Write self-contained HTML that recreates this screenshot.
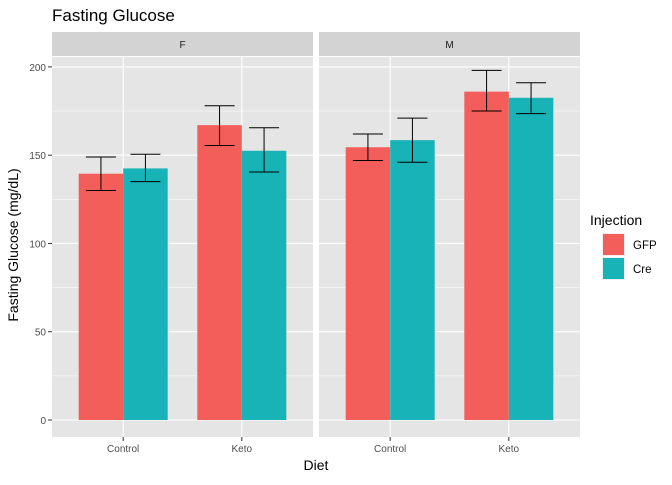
<!DOCTYPE html>
<html><head><meta charset="utf-8"><style>
body{margin:0;background:#fff;}
svg text{font-family:"Liberation Sans",sans-serif;}
</style></head><body>
<svg id="chart" width="672" height="480" xmlns="http://www.w3.org/2000/svg">
<text x="52" y="21" font-size="17" fill="#000">Fasting Glucose</text>
<g id="plot"></g>
<text x="316" y="470" font-size="14" text-anchor="middle">Diet</text>
<text transform="translate(18,245) rotate(-90)" font-size="14" text-anchor="middle">Fasting Glucose (mg/dL)</text>
<g>
<text x="590" y="225" font-size="14">Injection</text>
<rect x="602" y="233" width="23" height="23" fill="#EEEEEE"/>
<rect x="603" y="234" width="21" height="21" fill="#F35E5A"/>
<text x="633" y="249" font-size="11.5">GFP</text>
<rect x="602" y="257" width="23" height="23" fill="#EEEEEE"/>
<rect x="603" y="258" width="21" height="21" fill="#17B3B7"/>
<text x="633" y="273" font-size="11.5">Cre</text>
</g>
</svg>
<script>
const facets = ["F","M"];
const categories = ["Control","Keto"];
const gfpMean = [[139.5,167],[154.5,186]];
const gfpLow = [[130,155.5],[147,175]];
const gfpHigh = [[149,178],[162,198]];
const creMean = [[142.5,152.5],[158.5,182.5]];
const creLow = [[135,140.5],[146,173.5]];
const creHigh = [[150.5,165.5],[171,191]];
const yTicks = [0,50,100,150,200];
const yMinor = [25,75,125,175];

const ns="http://www.w3.org/2000/svg";
const g=document.getElementById('plot');
const panelX=[52,319], panelW=261, pTop=57, pBot=437;
function y(v){return 420 - v*1.7655;}
function mk(tag,attrs,parent){const e=document.createElementNS(ns,tag);for(const k in attrs)e.setAttribute(k,attrs[k]);(parent||g).appendChild(e);return e;}
function x(p,i){return panelX[p] + panelW*( (i+1)-0.4 )/2.2 ;}
yTicks.forEach((t)=>{
  const tx=mk('text',{x:46,y:y(t)+4,'font-size':10,'text-anchor':'end',fill:'#4D4D4D'});
  tx.textContent=t;
  
  
  mk('line',{x1:48,x2:52,y1:y(t),y2:y(t),stroke:'#333'});
});
facets.forEach((f,p)=>{
  const px=panelX[p];
  const bg=mk('rect',{x:px,y:pTop,width:panelW,height:pBot-pTop,fill:'#E5E5E5'});
  
  
  const st=mk('rect',{x:px,y:32,width:panelW,height:24,fill:'#D3D3D3'});
  
  
  const sl=mk('text',{x:px+panelW/2,y:48,'font-size':10,'text-anchor':'middle',fill:'#1A1A1A'});
  sl.textContent=f;
  
  
  yMinor.forEach(t=>mk('line',{x1:px,x2:px+panelW,y1:y(t),y2:y(t),stroke:'#fff','stroke-width':0.5}));
  yTicks.forEach(t=>mk('line',{x1:px,x2:px+panelW,y1:y(t),y2:y(t),stroke:'#fff','stroke-width':1.1}));
  categories.forEach((c,i)=>{
    const cx=x(p,i);
    mk('line',{x1:cx,x2:cx,y1:pTop,y2:pBot,stroke:'#fff','stroke-width':1.1});
    mk('line',{x1:cx,x2:cx,y1:pBot,y2:pBot+4,stroke:'#333'});
    const tl=mk('text',{x:cx,y:pBot+15,'font-size':10,'text-anchor':'middle',fill:'#4D4D4D'});
    tl.textContent=c;
    
    
  });
});
const bw=44.5;
facets.forEach((f,p)=>{
  categories.forEach((c,i)=>{
    const cx=x(p,i);
    [[gfpMean,gfpLow,gfpHigh,'#F35E5A',-1,'gfp'],[creMean,creLow,creHigh,'#17B3B7',0,'cre']].forEach(s=>{
      const v=s[0][p][i], bx=cx+s[4]*bw;
      const r=mk('rect',{x:bx,y:y(v),width:bw,height:y(0)-y(v),fill:s[3]});
      
      
      const m=bx+bw/2, lo=y(s[1][p][i]), hi=y(s[2][p][i]);
      const eb=mk('path',{d:`M${m-15},${hi}H${m+15}M${m},${hi}V${lo}M${m-15},${lo}H${m+15}`,stroke:'#000','stroke-width':1,fill:'none'});
      
      
    });
  });
});
</script>
</body></html>
